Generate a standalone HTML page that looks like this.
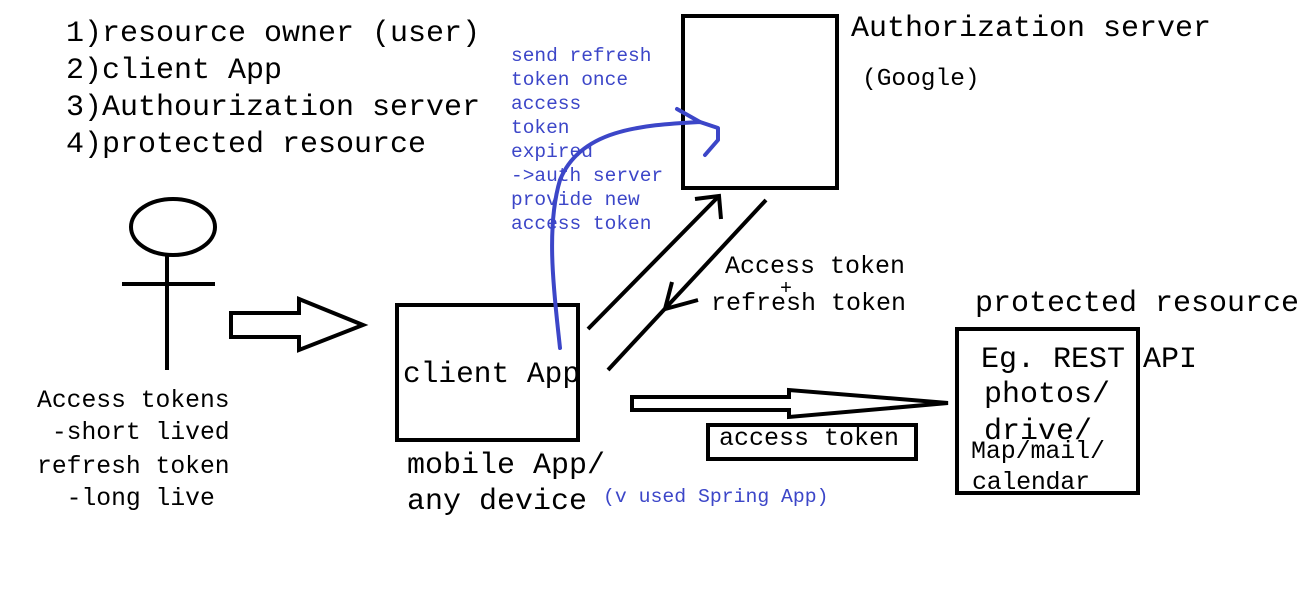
<!DOCTYPE html>
<html><head><meta charset="utf-8"><style>
html,body{margin:0;padding:0;background:#fff;}
svg{display:block;}
text{font-family:"Liberation Mono","DejaVu Sans Mono",monospace;fill:#000;white-space:pre;}
.b{fill:#3c46c8;}
</style></head><body>
<svg width="1310" height="593" viewBox="0 0 1310 593" xmlns="http://www.w3.org/2000/svg" xml:space="preserve">
<rect width="1310" height="593" fill="#fff"/>
<g font-size="30">
<text x="66" y="41">1)resource owner (user)</text>
<text x="66" y="78">2)client App</text>
<text x="66" y="115">3)Authourization server</text>
<text x="66" y="152">4)protected resource</text>
</g>
<g font-size="19.5">
<text class="b" x="511" y="61">send refresh</text>
<text class="b" x="511" y="85">token once</text>
<text class="b" x="511" y="109">access</text>
<text class="b" x="511" y="133">token</text>
<text class="b" x="511" y="157">expired</text>
<text class="b" x="511" y="181">-&gt;auth server</text>
<text class="b" x="511" y="205">provide new</text>
<text class="b" x="511" y="229">access token</text>
</g>
<rect x="683" y="16" width="154" height="172" fill="none" stroke="#000" stroke-width="4"/>
<text x="851" y="36" font-size="30">Authorization server</text>
<text x="862" y="85" font-size="24.5">(Google)</text>
<ellipse cx="173" cy="227" rx="42" ry="28" fill="none" stroke="#000" stroke-width="4"/>
<line x1="167" y1="255" x2="167" y2="370" stroke="#000" stroke-width="4"/>
<line x1="122" y1="284" x2="215" y2="284" stroke="#000" stroke-width="4"/>
<g font-size="24.7">
<text x="37" y="407">Access tokens</text>
<text x="37" y="439"> -short lived</text>
<text x="37" y="473">refresh token</text>
<text x="37" y="505">  -long live</text>
</g>
<polygon points="231,313 299,313 299,299 363,325 299,350 299,337 231,337" fill="none" stroke="#000" stroke-width="4"/>
<rect x="397" y="305" width="181" height="135" fill="none" stroke="#000" stroke-width="4"/>
<text x="403" y="382" font-size="29.5">client App</text>
<text x="407" y="473" font-size="30">mobile App/</text>
<text x="407" y="509" font-size="30">any device</text>
<text class="b" x="603" y="502" font-size="19.8">(v used Spring App)</text>
<line x1="588" y1="329" x2="717" y2="198" stroke="#000" stroke-width="4"/>
<polyline points="695,199 719,196 721,219" fill="none" stroke="#000" stroke-width="4"/>
<line x1="608" y1="370" x2="766" y2="200" stroke="#000" stroke-width="4"/>
<polyline points="672,282 665,309 698,300" fill="none" stroke="#000" stroke-width="4"/>
<text x="725" y="273" font-size="25">Access token</text>
<text x="780" y="294" font-size="20">+</text>
<text x="711" y="310" font-size="25">refresh token</text>
<path d="M560,348 C555,300 545,230 560,180 C580,130 640,125 700,122 L718,128 L718,140 L705,155" fill="none" stroke="#3c46c8" stroke-width="4" stroke-linejoin="round" stroke-linecap="round"/>
<path d="M677,109 L700,122" fill="none" stroke="#3c46c8" stroke-width="4" stroke-linecap="round"/>
<polygon points="632,397 789,397 789,390 948,403 789,417 789,410 632,410" fill="none" stroke="#000" stroke-width="4"/>
<rect x="708" y="425" width="208" height="34" fill="none" stroke="#000" stroke-width="4"/>
<text x="719" y="445" font-size="25">access token</text>
<text x="975" y="311" font-size="30">protected resource</text>
<rect x="957" y="329" width="181" height="164" fill="none" stroke="#000" stroke-width="4"/>
<text x="981" y="367" font-size="30">Eg. REST API</text>
<text x="984" y="402" font-size="30">photos/</text>
<text x="984" y="439" font-size="30">drive/</text>
<text x="971" y="458" font-size="25" textLength="134">Map/mail/</text>
<text x="972" y="489" font-size="25" textLength="118">calendar</text>
</svg>
</body></html>
